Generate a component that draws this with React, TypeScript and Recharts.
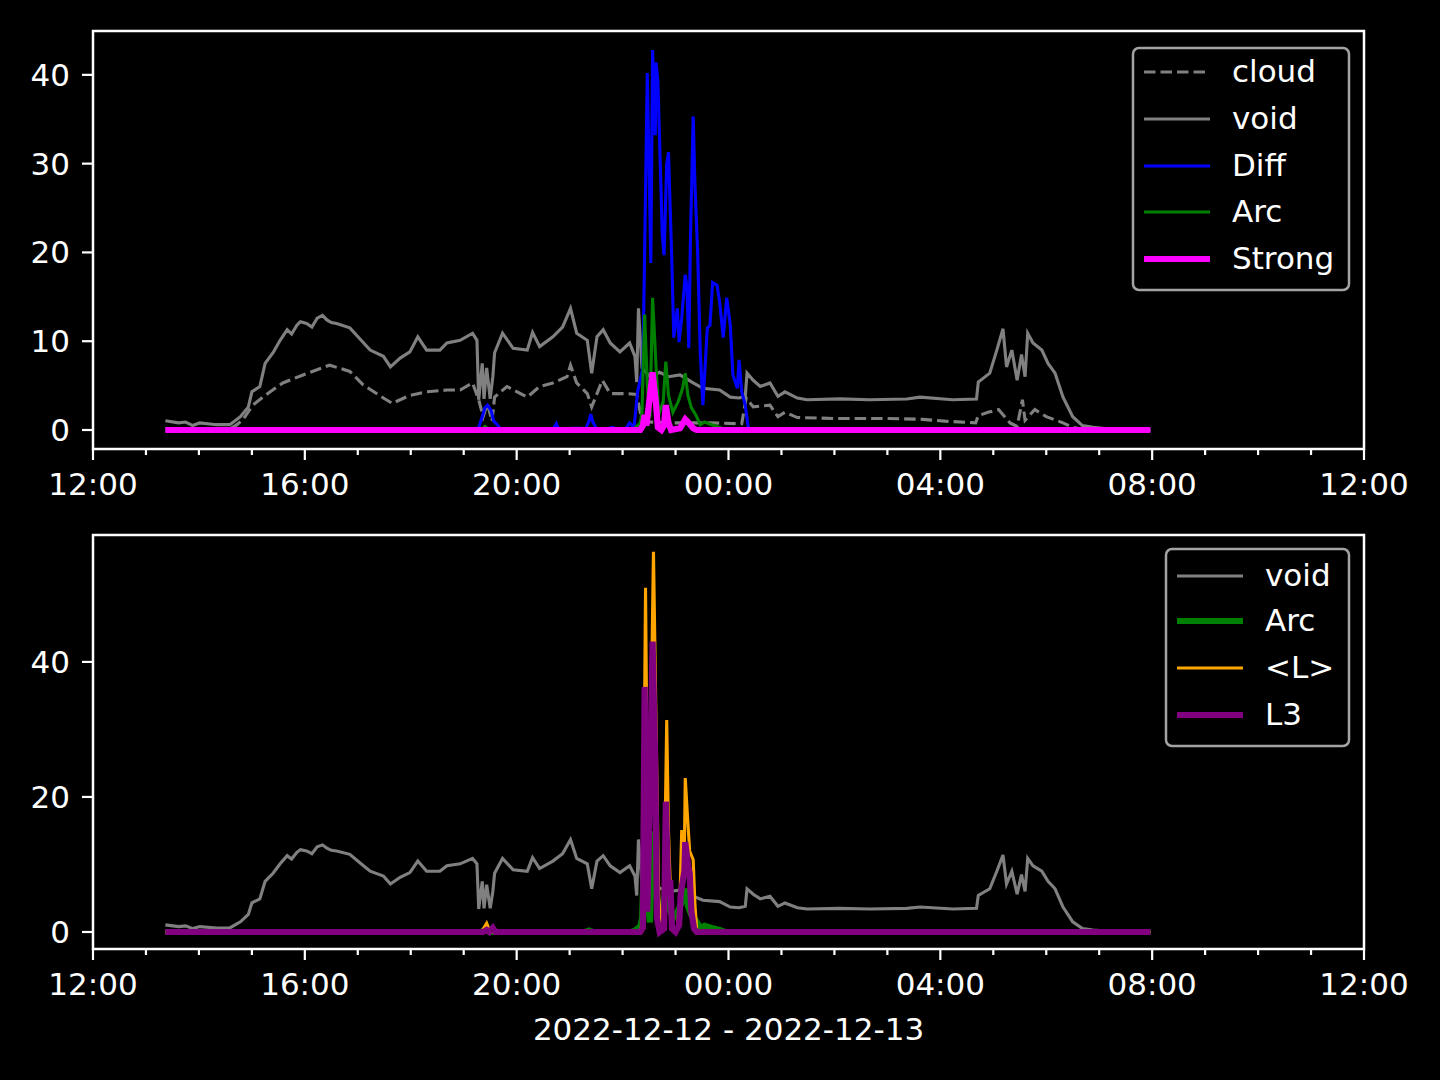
import React from 'react';
import { LineChart, Line, XAxis, YAxis, ReferenceArea, Label } from 'recharts';

// ---- data: [time "HH:MM", value] ----
const cloudSeries: [string, number][] = [
  ['13:22', 0.1], ['14:35', 0.1], ['14:43', 0.6], ['14:50', 1.2], ['15:01', 2.8], ['15:15', 3.9],
  ['15:35', 5.3], ['15:58', 6.2], ['16:28', 7.3], ['16:51', 6.6], ['17:06', 5.1], ['17:29', 3.6],
  ['17:39', 3.0], ['17:59', 3.9], ['18:18', 4.3], ['18:41', 4.5], ['18:56', 4.5], ['19:10', 5.3],
  ['19:17', 3.4], ['19:22', 1.5], ['19:27', 3.0], ['19:32', 1.0], ['19:35', 3.7], ['19:49', 4.9],
  ['20:12', 3.7], ['20:26', 4.9], ['20:41', 5.3], ['20:57', 6.0], ['21:01', 7.3], ['21:08', 5.3],
  ['21:20', 4.1], ['21:25', 2.6], ['21:37', 5.6], ['21:46', 4.1], ['22:05', 4.1], ['22:16', 4.0],
  ['22:21', 1.5], ['22:30', 0.9], ['23:00', 0.8], ['23:40', 0.8], ['00:15', 0.7], ['00:20', 3.6],
  ['00:28', 2.6], ['00:47', 2.8], ['00:56', 1.5], ['01:04', 2.0], ['01:18', 1.4], ['02:00', 1.3],
  ['03:00', 1.3], ['03:40', 1.2], ['04:05', 1.0], ['04:40', 0.8], ['04:43', 1.6], ['04:54', 2.0],
  ['05:06', 2.3], ['05:19', 0.8], ['05:27', 0.4], ['05:33', 3.4], ['05:36', 1.1], ['05:47', 2.3],
  ['06:00', 1.5], ['06:19', 0.8], ['06:30', 0.3], ['06:45', 0.0], ['07:58', 0.0],
];

const voidSeries: [string, number][] = [
  ['13:22', 1.05], ['13:37', 0.8], ['13:45', 0.9], ['13:53', 0.5], ['14:01', 0.8], ['14:20', 0.6],
  ['14:35', 0.6], ['14:47', 1.5], ['14:56', 2.6], ['15:00', 4.3], ['15:09', 4.9], ['15:15', 7.5],
  ['15:24', 8.7], ['15:32', 10.1], ['15:40', 11.3], ['15:45', 10.8], ['15:51', 11.8], ['15:55', 12.2],
  ['16:02', 12.0], ['16:08', 11.6], ['16:14', 12.6], ['16:20', 12.9], ['16:25', 12.4], ['16:30', 12.1],
  ['16:36', 12.0], ['16:51', 11.5], ['17:02', 10.3], ['17:14', 9.0], ['17:29', 8.3], ['17:37', 7.1],
  ['17:48', 8.1], ['17:59', 8.8], ['18:08', 10.5], ['18:18', 9.0], ['18:33', 9.0], ['18:41', 9.8],
  ['18:56', 10.1], ['19:10', 10.9], ['19:15', 10.1], ['19:17', 3.4], ['19:21', 7.5], ['19:23', 3.5],
  ['19:26', 7.0], ['19:30', 3.5], ['19:33', 6.0], ['19:35', 8.7], ['19:44', 10.9], ['19:56', 9.2],
  ['20:12', 9.0], ['20:18', 11.0], ['20:26', 9.4], ['20:41', 10.5], ['20:52', 11.6], ['21:01', 13.7],
  ['21:08', 10.9], ['21:20', 10.1], ['21:25', 6.4], ['21:31', 10.5], ['21:38', 11.3], ['21:46', 9.8],
  ['21:57', 8.8], ['22:08', 9.8], ['22:14', 8.3], ['22:16', 5.4], ['22:18', 13.7], ['22:22', 7.0],
  ['22:31', 6.0], ['22:42', 6.5], ['22:52', 6.0], ['23:05', 6.2], ['23:20', 5.3], ['23:31', 4.7],
  ['23:50', 4.5], ['00:02', 3.7], ['00:12', 3.6], ['00:19', 3.8], ['00:21', 6.4], ['00:28', 5.6],
  ['00:36', 4.9], ['00:47', 5.3], ['00:56', 3.8], ['01:04', 4.3], ['01:18', 3.6], ['01:29', 3.4],
  ['02:06', 3.5], ['02:40', 3.4], ['03:22', 3.5], ['03:37', 3.7], ['04:14', 3.4], ['04:41', 3.5],
  ['04:43', 5.4], ['04:56', 6.4], ['05:04', 9.0], ['05:11', 11.4], ['05:15', 7.1], ['05:21', 9.0],
  ['05:27', 5.6], ['05:32', 8.5], ['05:36', 6.0], ['05:39', 10.9], ['05:45', 9.8], ['05:55', 9.0],
  ['06:02', 7.5], ['06:10', 6.4], ['06:19', 3.7], ['06:30', 1.5], ['06:41', 0.5], ['06:53', 0.3],
  ['07:12', 0.1], ['07:58', 0.0],
];

const diffSeries: [string, number][] = [
  ['13:22', 0], ['19:14', 0], ['19:17', 0.3], ['19:21', 1.5], ['19:24', 2.5], ['19:27', 2.8],
  ['19:31', 2.2], ['19:34', 1.0], ['19:38', 0.6], ['19:41', 0.2], ['19:44', 0], ['20:41', 0],
  ['20:45', 0.7], ['20:48', 0], ['21:03', 0.2], ['21:12', 0.2], ['21:18', 0.1], ['21:22', 1.0],
  ['21:24', 1.8], ['21:26', 1.0], ['21:30', 0.2], ['21:34', 0], ['21:49', 0.3], ['21:53', 0],
  ['22:04', 0.2], ['22:08', 0.8], ['22:13', 0.3], ['22:17', 4.3], ['22:23', 7.0], ['22:28', 40.2],
  ['22:30', 29.5], ['22:32', 18.8], ['22:34', 42.8], ['22:37', 33.2], ['22:38', 41.4], ['22:40', 39.2],
  ['22:45', 22.0], ['22:47', 19.7], ['22:50', 29.9], ['22:52', 31.3], ['22:56', 18.3], ['22:58', 10.4],
  ['23:02', 13.7], ['23:04', 9.9], ['23:07', 12.6], ['23:11', 17.5], ['23:13', 16.0], ['23:15', 9.2],
  ['23:17', 22.0], ['23:20', 35.3], ['23:22', 27.6], ['23:25', 20.1], ['23:28', 8.8], ['23:31', 2.8],
  ['23:36', 11.5], ['23:39', 11.8], ['23:42', 16.6], ['23:47', 16.3], ['23:50', 14.4], ['23:54', 10.4],
  ['23:58', 14.9], ['00:02', 11.8], ['00:05', 6.2], ['00:10', 4.7], ['00:12', 7.9], ['00:15', 4.3],
  ['00:19', 2.8], ['00:22', 0.5], ['00:24', 0], ['07:58', 0],
];

const arcSeries: [string, number][] = [
  ['13:22', 0], ['19:20', 0], ['19:24', 0.4], ['19:30', 0], ['21:18', 0], ['21:22', 0.2], ['21:26', 0],
  ['22:10', 0], ['22:15', 0.3], ['22:20', 0.8], ['22:22', 2.0], ['22:25', 13.0], ['22:28', 5.1],
  ['22:31', 1.4], ['22:34', 14.9], ['22:38', 7.0], ['22:41', 1.7], ['22:46', 3.2], ['22:49', 7.7],
  ['22:52', 3.9], ['22:57', 2.0], ['23:03', 3.2], ['23:08', 4.7], ['23:11', 6.4], ['23:14', 3.9],
  ['23:18', 2.5], ['23:23', 1.7], ['23:28', 0.6], ['23:33', 0.9], ['23:41', 0.6], ['23:50', 0.3],
  ['23:56', 0], ['07:58', 0],
];

const strongSeries: [string, number][] = [
  ['13:22', 0], ['22:20', 0], ['22:23', 0.5], ['22:25', 1.7], ['22:27', 0.5], ['22:32', 4.7],
  ['22:34', 6.5], ['22:38', 2.8], ['22:40', 0.3], ['22:44', 0], ['22:47', 0.5], ['22:49', 2.8],
  ['22:52', 0.8], ['22:55', 0], ['23:05', 0.2], ['23:11', 1.2], ['23:14', 0.9], ['23:20', 0.2],
  ['23:24', 0], ['07:58', 0],
];

const lMeanSeries: [string, number][] = [
  ['13:22', 0], ['19:20', 0], ['19:26', 1.3], ['19:30', 0], ['22:20', 0], ['22:23', 2.0],
  ['22:26', 51.0], ['22:28', 20.0], ['22:30', 15.0], ['22:32', 30.0], ['22:35', 56.3], ['22:38', 30.0],
  ['22:41', 5.0], ['22:44', 0.5], ['22:47', 5.0], ['22:50', 31.4], ['22:52', 15.0], ['22:55', 3.0],
  ['22:57', 0.5], ['23:02', 0.5], ['23:05', 5.0], ['23:07', 15.1], ['23:10', 12.0], ['23:11', 22.8],
  ['23:14', 16.1], ['23:16', 12.0], ['23:20', 10.7], ['23:22', 4.0], ['23:24', 0.3], ['23:28', 0],
  ['07:58', 0],
];

const l3Series: [string, number][] = [
  ['13:22', 0], ['19:22', 0], ['19:26', 0.3], ['19:29', 0], ['19:33', 0.6], ['19:36', 0],
  ['22:20', 0], ['22:23', 0.6], ['22:25', 36.3], ['22:28', 3.0], ['22:31', 20.0], ['22:34', 43.0],
  ['22:37', 25.0], ['22:39', 2.0], ['22:42', 0], ['22:47', 0.5], ['22:49', 19.3], ['22:52', 5.0],
  ['22:54', 7.7], ['22:56', 0.5], ['23:00', 0], ['23:04', 1.0], ['23:06', 5.8], ['23:10', 9.0],
  ['23:11', 13.3], ['23:14', 10.0], ['23:16', 8.7], ['23:18', 3.0], ['23:21', 0.5], ['23:24', 0],
  ['07:58', 0],
];

const hourTicks = [0, 1, 2, 3, 4, 5, 6, 7, 8, 9, 10, 11, 12, 13, 14, 15, 16, 17, 18, 19, 20, 21, 22, 23, 24];
const majorTickLabels = ['12:00', '16:00', '20:00', '00:00', '04:00', '08:00', '12:00'];
const topYTicks = [0, 10, 20, 30, 40];
const bottomYTicks = [0, 20, 40];
const xAxisLabel = '2022-12-12 - 2022-12-13';
const topDomain: [number, number] = [-2.14, 44.94];
const bottomDomain: [number, number] = [-2.52, 58.8];

const topLegend = [
  { name: 'cloud', color: '#808080', width: 3.1, dash: '11.5 5' },
  { name: 'void', color: '#808080', width: 3.1, dash: undefined },
  { name: 'Diff', color: '#0000ff', width: 3.1, dash: undefined },
  { name: 'Arc', color: '#008000', width: 3.1, dash: undefined },
  { name: 'Strong', color: '#ff00ff', width: 6.2, dash: undefined },
];
const bottomLegend = [
  { name: 'void', color: '#808080', width: 3.1, dash: undefined },
  { name: 'Arc', color: '#008000', width: 6.2, dash: undefined },
  { name: '<L>', color: '#ffa500', width: 3.1, dash: undefined },
  { name: 'L3', color: '#800080', width: 6.2, dash: undefined },
];

// ---- helpers ----
const FONT = 'DejaVu Sans';
const toHours = (s: string) => {
  const [hh, mm] = s.split(':').map(Number);
  let h = hh + mm / 60;
  if (h < 12) h += 24;
  return h - 12;
};
const toData = (series: [string, number][]) => series.map(([t, v]) => ({ t: toHours(t), v }));

const cloudData = toData(cloudSeries);
const voidData = toData(voidSeries);
const diffData = toData(diffSeries);
const arcData = toData(arcSeries);
const strongData = toData(strongSeries);
const lMeanData = toData(lMeanSeries);
const l3Data = toData(l3Series);

const XTick = (props: any) => {
  const { x, y, payload } = props;
  const h = payload.value as number;
  const major = h % 4 === 0;
  return (
    <g>
      <line x1={x} x2={x} y1={y} y2={y + (major ? 11 : 6)} stroke="#fff" strokeWidth={2.2} />
      {major && (
        <text x={x} y={y + 46} textAnchor="middle" fill="#fff" fontSize={31} fontFamily={FONT}>
          {majorTickLabels[h / 4]}
        </text>
      )}
    </g>
  );
};

const YTick = (props: any) => {
  const { x, y, payload } = props;
  return (
    <g>
      <line x1={x - 11} x2={x} y1={y} y2={y} stroke="#fff" strokeWidth={2.2} />
      <text x={x - 23} y={y + 11} textAnchor="end" fill="#fff" fontSize={31} fontFamily={FONT}>
        {payload.value}
      </text>
    </g>
  );
};

const LegendBox = ({ items, left, top, width, height, rowTops }: any) => (
  <svg
    style={{ position: 'absolute', left, top, overflow: 'visible' }}
    width={width}
    height={height}
  >
    <rect x={0} y={0} width={width} height={height} rx={6} ry={6} fill="#000" fillOpacity={0.8} stroke="#a3a3a3" strokeWidth={2.5} />
    {items.map((it: any, i: number) => (
      <g key={it.name}>
        <line x1={11} x2={77} y1={rowTops[i]} y2={rowTops[i]} stroke={it.color} strokeWidth={it.width} strokeDasharray={it.dash} />
        <text x={99} y={rowTops[i] + 10} fill="#fff" fontSize={31} fontFamily={FONT}>
          {it.name}
        </text>
      </g>
    ))}
  </svg>
);

const lineCommon = { type: 'linear' as const, dataKey: 'v', dot: false, activeDot: false, isAnimationActive: false };

export default function App() {
  return (
    <div style={{ position: 'absolute', left: 0, top: 0, width: 1440, height: 1080, background: '#000', overflow: 'hidden' }}>
      <div style={{ position: 'absolute', left: 0, top: 0 }}>
        <LineChart width={1440} height={540} margin={{ top: 31, right: 76, bottom: 31, left: 0 }}>
          <XAxis
            type="number"
            dataKey="t"
            domain={[0, 24]}
            allowDataOverflow
            ticks={hourTicks}
            interval={0}
            tickSize={0}
            tickMargin={0}
            tickLine={false}
            axisLine={false}
            height={60}
            tick={<XTick />}
          />
          <YAxis
            type="number"
            dataKey="v"
            domain={topDomain}
            allowDataOverflow
            ticks={topYTicks}
            interval={0}
            tickSize={0}
            tickMargin={0}
            tickLine={false}
            axisLine={false}
            width={93}
            tick={<YTick />}
          />
          <Line {...lineCommon} data={cloudData} stroke="#808080" strokeWidth={3.1} strokeDasharray="11.5 5" />
          <Line {...lineCommon} data={voidData} stroke="#808080" strokeWidth={3.1} />
          <Line {...lineCommon} data={diffData} stroke="#0000ff" strokeWidth={3.1} />
          <Line {...lineCommon} data={arcData} stroke="#008000" strokeWidth={3.1} />
          <Line {...lineCommon} data={strongData} stroke="#ff00ff" strokeWidth={6.2} />
          <ReferenceArea x1={0} x2={24} y1={topDomain[0]} y2={topDomain[1]} fill="none" stroke="#fff" strokeWidth={2.5} ifOverflow="visible" />
        </LineChart>
      </div>
      <div style={{ position: 'absolute', left: 0, top: 500 }}>
        <LineChart width={1440} height={580} margin={{ top: 35, right: 76, bottom: 31, left: 0 }}>
          <XAxis
            type="number"
            dataKey="t"
            domain={[0, 24]}
            allowDataOverflow
            ticks={hourTicks}
            interval={0}
            tickSize={0}
            tickMargin={0}
            tickLine={false}
            axisLine={false}
            height={100}
            tick={<XTick />}
          >
            <Label value={xAxisLabel} position="insideBottom" offset={9} fill="#fff" fontSize={31} fontFamily={FONT} />
          </XAxis>
          <YAxis
            type="number"
            dataKey="v"
            domain={bottomDomain}
            allowDataOverflow
            ticks={bottomYTicks}
            interval={0}
            tickSize={0}
            tickMargin={0}
            tickLine={false}
            axisLine={false}
            width={93}
            tick={<YTick />}
          />
          <Line {...lineCommon} data={voidData} stroke="#808080" strokeWidth={3.1} />
          <Line {...lineCommon} data={arcData} stroke="#008000" strokeWidth={6.2} />
          <Line {...lineCommon} data={lMeanData} stroke="#ffa500" strokeWidth={3.1} />
          <Line {...lineCommon} data={l3Data} stroke="#800080" strokeWidth={6.2} />
          <ReferenceArea x1={0} x2={24} y1={bottomDomain[0]} y2={bottomDomain[1]} fill="none" stroke="#fff" strokeWidth={2.5} ifOverflow="visible" />
        </LineChart>
      </div>
      <LegendBox items={topLegend} left={1133} top={48} width={216} height={242} rowTops={[24, 71, 118, 164, 211]} />
      <LegendBox items={bottomLegend} left={1166} top={549} width={183} height={197} rowTops={[27, 72, 119, 166]} />
    </div>
  );
}
